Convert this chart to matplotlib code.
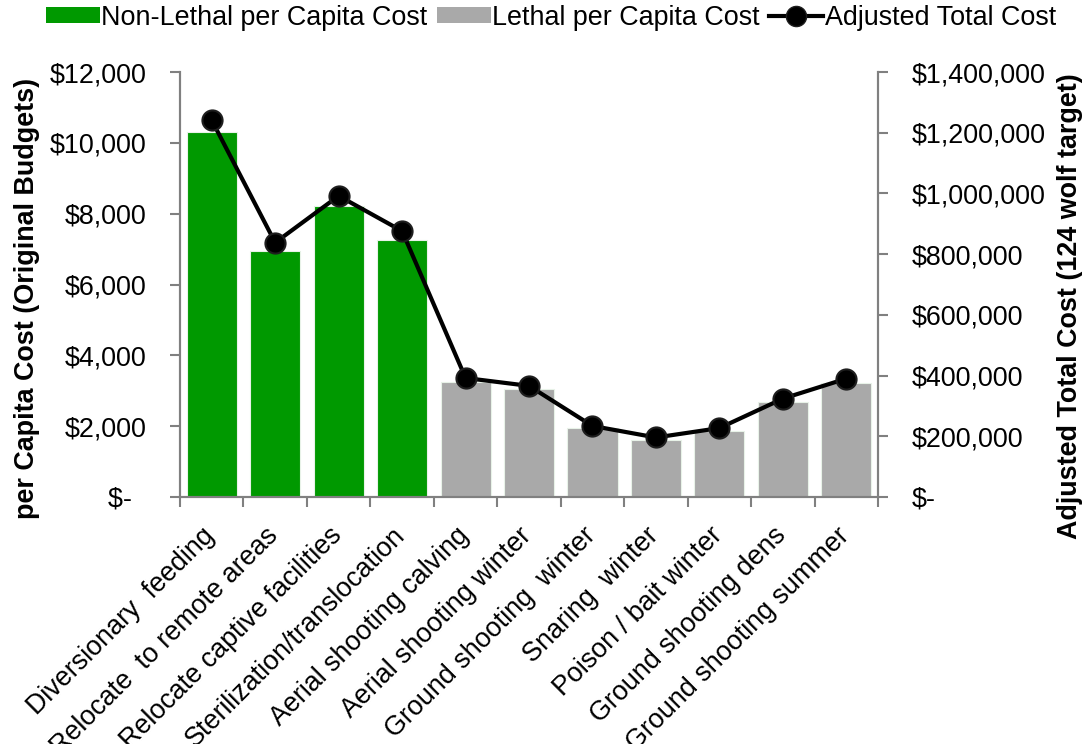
import matplotlib
matplotlib.use("Agg")
import matplotlib.pyplot as plt
import matplotlib.transforms as mtransforms
from matplotlib.patches import Patch
from matplotlib.lines import Line2D
import numpy as np

plt.rcParams['font.family'] = ['Liberation Sans', 'DejaVu Sans']

categories = ["Diversionary  feeding", "Relocate  to remote areas", "Relocate captive facilities",
              "Sterilization/translocation", "Aerial shooting calving", "Aerial shooting winter",
              "Ground shooting  winter", "Snaring  winter", "Poison / bait winter",
              "Ground shooting dens", "Ground shooting summer"]
per_capita = [10300, 6950, 8230, 7270, 3240, 3040, 1940, 1610, 1860, 2680, 3230]
lethal = [False, False, False, False, True, True, True, True, True, True, True]
adjusted_total = [1241000, 838000, 992000, 876000, 392000, 366000, 234000, 196000, 227000, 324000, 390000]
left_ticks = [0, 2000, 4000, 6000, 8000, 10000, 12000]
left_ticklabels = ["$-  ", "$2,000", "$4,000", "$6,000", "$8,000", "$10,000", "$12,000"]
right_ticks = [0, 200000, 400000, 600000, 800000, 1000000, 1200000, 1400000]
right_ticklabels = ["$-", "$200,000", "$400,000", "$600,000", "$800,000", "$1,000,000", "$1,200,000", "$1,400,000"]

GREEN = "#009900"
GRAY = "#A9A9A9"
AXC = "#808080"
FS = 19.4

fig = plt.figure(figsize=(10.91, 7.44), dpi=100)
ax = fig.add_axes([0.1650, 0.3320, 0.6398, 0.5712])
ax2 = ax.twinx()

x = np.arange(len(categories))
colors = [GRAY if l else GREEN for l in lethal]
ax.bar(x, per_capita, width=0.79, color=colors, edgecolor="#e8f2e8", linewidth=0.8, zorder=2)
ax2.plot(x, adjusted_total, color="black", linewidth=3, marker="o", markersize=14.5,
         markerfacecolor="black", markeredgecolor="#1e1e1e", markeredgewidth=1.5, zorder=3)

ax.set_xlim(-0.5, len(categories) - 0.5)
ax.set_ylim(0, 12000)
ax2.set_ylim(0, 1400000)

ax.set_yticks(left_ticks)
ax.set_yticklabels(left_ticklabels, fontsize=FS)
ax2.set_yticks(right_ticks)
ax2.set_yticklabels(right_ticklabels, fontsize=FS)

ax.set_xticks(x)
ax.set_xticks(np.arange(-0.5, len(categories), 1.0), minor=True)
ax.tick_params(axis='x', which='major', length=0, pad=25)
ax.tick_params(axis='x', which='minor', length=7, color=AXC, width=1.5)
ax.set_xticklabels(categories, rotation=45, ha='right', va='center', rotation_mode='anchor', fontsize=FS)
offset = mtransforms.ScaledTranslation(-1 / 100, 0, fig.dpi_scale_trans)
for lab in ax.get_xticklabels():
    lab.set_transform(lab.get_transform() + offset)

ax.tick_params(axis='y', length=7, color=AXC, width=1.5, pad=17)
ax2.tick_params(axis='y', length=7, color=AXC, width=1.5, pad=17)

for a in (ax, ax2):
    a.spines['top'].set_visible(False)
    for s in ('left', 'right', 'bottom'):
        a.spines[s].set_color(AXC)
        a.spines[s].set_linewidth(1.5)

fig.text(0.025, 0.599, "per Capita Cost (Original Budgets)", rotation=90, ha='center', va='center',
         fontsize=FS, fontweight='bold')
fig.text(0.981, 0.589, "Adjusted Total Cost (124 wolf target)", rotation=90, ha='center', va='center',
         fontsize=FS, fontweight='bold')

handles = [Patch(facecolor=GREEN, edgecolor='none'),
           Patch(facecolor=GRAY, edgecolor='none'),
           Line2D([0], [0], color='black', linewidth=3, marker='o', markersize=14.5,
                  markerfacecolor='black', markeredgecolor='#1e1e1e')]
labels = ["Non-Lethal per Capita Cost", "Lethal per Capita Cost", "Adjusted Total Cost"]
fig.legend(handles, labels, loc='center', bbox_to_anchor=(0.505, 0.976), ncol=3, frameon=False,
           fontsize=FS, handlelength=2.0, handleheight=0.55, handletextpad=0.05, columnspacing=0.35,
           borderpad=0, borderaxespad=0)

fig.savefig("out.png", dpi=100)
